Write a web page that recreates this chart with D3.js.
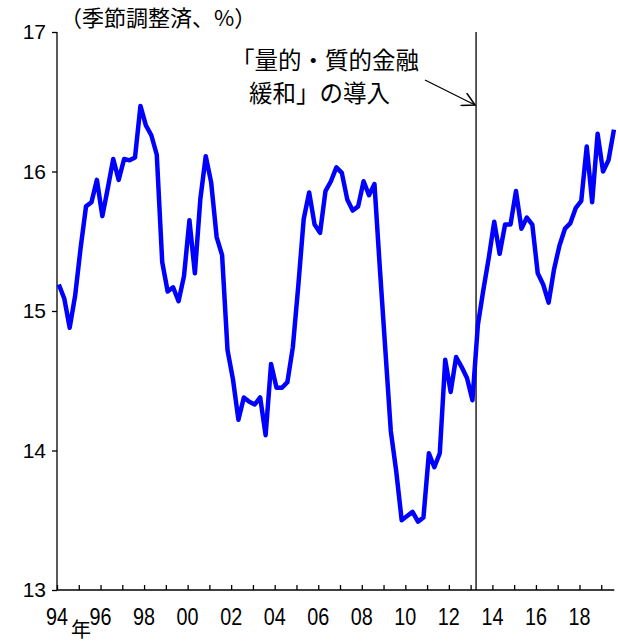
<!DOCTYPE html>
<html>
<head>
<meta charset="utf-8">
<script src="https://cdn.jsdelivr.net/npm/d3@7"></script>
<style>
  body { margin: 0; background: #fff; }
  svg text { font-family: "Liberation Sans", "Noto Sans CJK JP", sans-serif; fill: #000; }
  .jp { font-family: "Noto Sans CJK JP", sans-serif; }
</style>
</head>
<body>
<div id="graph"></div>
<script>
// quarterly, seasonally adjusted, 1994Q1 .. 2019Q3
var startYear = 1994;
var rate = [
  15.19, 15.09, 14.88, 15.11, 15.45, 15.75, 15.78, 15.94,   // 94-95
  15.68, 15.88, 16.09, 15.94, 16.09, 16.08, 16.10, 16.47,   // 96-97
  16.33, 16.26, 16.12, 15.35, 15.14, 15.17, 15.07, 15.25,   // 98-99
  15.65, 15.27, 15.80, 16.11, 15.92, 15.53, 15.40, 14.72,   // 00-01
  14.51, 14.22, 14.38, 14.35, 14.33, 14.38, 14.11, 14.62,   // 02-03
  14.45, 14.45, 14.49, 14.74, 15.18, 15.66, 15.85, 15.62,   // 04-05
  15.56, 15.86, 15.93, 16.03, 15.99, 15.80, 15.72, 15.75,   // 06-07
  15.93, 15.83, 15.91, 15.30, 14.72, 14.14, 13.85, 13.50,   // 08-09
  13.53, 13.56, 13.49, 13.52, 13.98, 13.88, 13.98, 14.65,   // 10-11
  14.42, 14.67, 14.60, 14.52, 14.36, 14.90, 15.15, 15.38,   // 12-13
  15.64, 15.41, 15.62, 15.62, 15.86, 15.59, 15.67, 15.62,   // 14-15
  15.27, 15.19, 15.06, 15.30, 15.47, 15.59, 15.63, 15.74,   // 16-17
  15.79, 16.18, 15.78, 16.27, 16.00, 16.08, 16.30           // 18-19
];
var yTicks = [13, 14, 15, 16, 17];
var xLabelYears = [1994, 1996, 1998, 2000, 2002, 2004, 2006, 2008, 2010, 2012, 2014, 2016, 2018];
var qqeDate = 2013.25;
var unitLabel = "（季節調整済、%）";
var noteLines = ["「量的・質的金融", "緩和」の導入"];

var data = rate.map(function(v, i) {
    // plotted at the middle month of each quarter
    return { t: startYear + i / 4 + 1 / 12, v: v };
});

var W = 618, H = 643;
var x = d3.scaleLinear().domain([1994, 2019.6]).range([57, 614.3]);
var y = d3.scaleLinear().domain([13, 17]).range([590, 32]);

var svg = d3.select("#graph").append("svg")
    .attr("width", W)
    .attr("height", H);

// axes
var yAxis = d3.axisLeft(y).tickValues(yTicks).tickSize(5).tickFormat(d3.format("d"));
var gy = svg.append("g")
    .attr("transform", "translate(" + x(1994) + ",0)")
    .call(yAxis);
gy.select(".domain").attr("d", "M0," + y(17) + "V" + y(13));
gy.selectAll("text").attr("font-size", 21).attr("x", -11);

var years = d3.range(1994, 2020);
var xAxis = d3.axisTop(x).tickValues(years).tickSize(5).tickFormat("");
var gx = svg.append("g")
    .attr("transform", "translate(0," + y(13) + ")")
    .call(xAxis);
gx.select(".domain").attr("d", "M" + x(1994) + ",0H" + x(2019.6));

// year labels, a little condensed like the original
svg.append("g").selectAll("text")
    .data(xLabelYears)
    .enter().append("text")
    .attr("transform", function(d) { return "translate(" + x(d) + ",625) scale(0.86,1)"; })
    .attr("text-anchor", "middle")
    .attr("font-size", 23)
    .text(function(d) { return d3.format("02")(d % 100); });

svg.append("text")
    .attr("class", "jp")
    .attr("x", 81)
    .attr("y", 637)
    .attr("text-anchor", "middle")
    .attr("font-size", 20)
    .text("年");

svg.selectAll(".tick line, .domain").attr("stroke", "#000").attr("stroke-width", 1.3);

// unit label
svg.append("text")
    .attr("class", "jp")
    .attr("x", 60)
    .attr("y", 26)
    .attr("font-size", 22)
    .text(unitLabel);

// QQE marker
svg.append("line")
    .attr("x1", x(qqeDate)).attr("x2", x(qqeDate))
    .attr("y1", y(17)).attr("y2", y(13))
    .attr("stroke", "#000").attr("stroke-width", 1.3);

svg.append("defs").append("marker")
    .attr("id", "arr")
    .attr("viewBox", "0 0 12 12")
    .attr("refX", 11).attr("refY", 6)
    .attr("markerWidth", 14).attr("markerHeight", 14)
    .attr("markerUnits", "userSpaceOnUse")
    .attr("orient", "auto")
    .append("path")
    .attr("d", "M0,0L11,6L0,12")
    .attr("fill", "none")
    .attr("stroke", "#000")
    .attr("stroke-width", 1.3);

svg.append("line")
    .attr("x1", 425).attr("y1", 80)
    .attr("x2", x(qqeDate) - 1).attr("y2", 105)
    .attr("stroke", "#000").attr("stroke-width", 1.3)
    .attr("marker-end", "url(#arr)");

svg.append("g").selectAll("text")
    .data(noteLines)
    .enter().append("text")
    .attr("class", "jp")
    .attr("x", function(d, i) { return i == 0 ? 231 : 249; })
    .attr("y", function(d, i) { return 69 + i * 33; })
    .attr("font-size", 23.5)
    .text(function(d) { return d; });

// series
var line = d3.line()
    .x(function(d) { return x(d.t); })
    .y(function(d) { return y(d.v); });

svg.append("path")
    .datum(data)
    .attr("fill", "none")
    .attr("stroke", "#0000ff")
    .attr("stroke-width", 4.5)
    .attr("stroke-linejoin", "round")
    .attr("d", line);
</script>
</body>
</html>
